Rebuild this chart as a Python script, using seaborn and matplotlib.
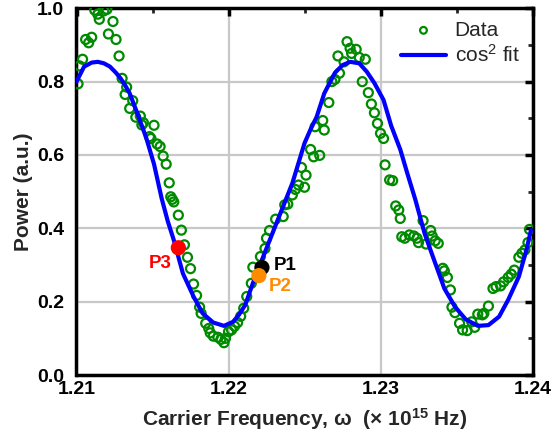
import matplotlib
matplotlib.use("Agg")
import matplotlib.pyplot as plt
import numpy as np
import pandas as pd
import seaborn as sns
from matplotlib.ticker import MultipleLocator, FormatStrFormatter

# ---------------- data ----------------
data_x = [1.2101, 1.2102, 1.2104, 1.2106, 1.2108, 1.2110, 1.2112, 1.2114, 1.2115, 1.2118,
          1.2120, 1.2121, 1.2124, 1.2126, 1.2128, 1.2130, 1.2132, 1.2133, 1.2135, 1.2137,
          1.2139, 1.2142, 1.2143, 1.2144, 1.2148, 1.2149, 1.2151, 1.2153, 1.2155, 1.2157,
          1.2159, 1.2161, 1.2162, 1.2163, 1.2164, 1.2167, 1.2169, 1.2171, 1.2173, 1.2175,
          1.2177, 1.2179, 1.2181, 1.2182, 1.2185, 1.2187, 1.2188, 1.2190, 1.2193, 1.2195,
          1.2197, 1.2198, 1.2200, 1.2202, 1.2204, 1.2206, 1.2208, 1.2210, 1.2212, 1.2215,
          1.2216, 1.2221, 1.2224, 1.2225, 1.2227, 1.2231, 1.2236, 1.2237, 1.2239, 1.2242,
          1.2244, 1.2246, 1.2248, 1.2250, 1.2251, 1.2254, 1.2256, 1.2257, 1.2260, 1.2262,
          1.2263, 1.2266, 1.2268, 1.2270, 1.2272, 1.2273, 1.2276, 1.2278, 1.2280, 1.2281,
          1.2284, 1.2286, 1.2288, 1.2290, 1.2292, 1.2294, 1.2296, 1.2298, 1.2300, 1.2302,
          1.2303, 1.2306, 1.2308, 1.2310, 1.2312, 1.2313, 1.2314, 1.2316, 1.2319, 1.2322,
          1.2324, 1.2325, 1.2328, 1.2330, 1.2333, 1.2334, 1.2336, 1.2338, 1.2341, 1.2342,
          1.2344, 1.2346, 1.2347, 1.2349, 1.2352, 1.2354, 1.2357, 1.2360, 1.2362, 1.2364,
          1.2367, 1.2368, 1.2371, 1.2374, 1.2376, 1.2379, 1.2381, 1.2384, 1.2386, 1.2388,
          1.2391, 1.2393, 1.2395, 1.2397, 1.2398]
data_y = [0.794, 0.843, 0.861, 0.915, 0.906, 0.921, 0.995, 0.984, 0.970, 0.993,
          0.997, 0.930, 0.964, 0.915, 0.870, 0.809, 0.765, 0.785, 0.727, 0.748,
          0.703, 0.706, 0.682, 0.688, 0.650, 0.645, 0.681, 0.630, 0.623, 0.597,
          0.575, 0.524, 0.486, 0.479, 0.472, 0.436, 0.395, 0.355, 0.321, 0.290,
          0.248, 0.217, 0.185, 0.168, 0.141, 0.127, 0.115, 0.106, 0.103, 0.097,
          0.088, 0.100, 0.118, 0.123, 0.133, 0.143, 0.160, 0.182, 0.214, 0.250,
          0.294, 0.323, 0.345, 0.373, 0.394, 0.425, 0.432, 0.464, 0.466, 0.491,
          0.506, 0.518, 0.566, 0.512, 0.545, 0.615, 0.595, 0.677, 0.599, 0.694,
          0.668, 0.743, 0.800, 0.806, 0.870, 0.823, 0.854, 0.909, 0.891, 0.877,
          0.888, 0.866, 0.800, 0.861, 0.770, 0.739, 0.715, 0.686, 0.659, 0.645,
          0.573, 0.532, 0.530, 0.461, 0.450, 0.427, 0.377, 0.373, 0.382, 0.379,
          0.373, 0.361, 0.421, 0.357, 0.394, 0.379, 0.366, 0.359, 0.291, 0.284,
          0.266, 0.232, 0.185, 0.170, 0.141, 0.123, 0.121, 0.145, 0.130, 0.166,
          0.164, 0.168, 0.188, 0.236, 0.241, 0.243, 0.254, 0.266, 0.275, 0.286,
          0.321, 0.332, 0.341, 0.361, 0.397]

fit_x = [1.2100, 1.2105, 1.2110, 1.2114, 1.2118, 1.2122, 1.2126, 1.2129, 1.2132, 1.2135,
         1.2140, 1.2146, 1.2151, 1.2156, 1.2160, 1.2164, 1.2170, 1.2177, 1.2183, 1.2190,
         1.2197, 1.2203, 1.2207, 1.2211, 1.2216, 1.2222, 1.2228, 1.2235, 1.2242, 1.2247,
         1.2250, 1.2254, 1.2258, 1.2263, 1.2270, 1.2275, 1.2280, 1.2286, 1.2291, 1.2296,
         1.2302, 1.2307, 1.2313, 1.2318, 1.2323, 1.2329, 1.2336, 1.2342, 1.2349, 1.2356,
         1.2364, 1.2371, 1.2378, 1.2384, 1.2391, 1.2396, 1.2399]
fit_y = [0.800, 0.841, 0.852, 0.854, 0.850, 0.841, 0.824, 0.809, 0.790, 0.768,
         0.714, 0.645, 0.575, 0.482, 0.420, 0.368, 0.277, 0.214, 0.168, 0.143,
         0.134, 0.145, 0.165, 0.191, 0.250, 0.314, 0.377, 0.450, 0.523, 0.591,
         0.632, 0.670, 0.704, 0.768, 0.824, 0.845, 0.854, 0.850, 0.827, 0.796,
         0.750, 0.680, 0.615, 0.545, 0.477, 0.386, 0.305, 0.236, 0.186, 0.152,
         0.134, 0.136, 0.159, 0.205, 0.268, 0.341, 0.395]

mark_labels = ["P1", "P2", "P3"]
mark_x = [1.2222, 1.2220, 1.2167]
mark_y = [0.293, 0.271, 0.347]
mark_colors = ["black", "#ff8c00", "#ff0000"]
label_x = [1.22300, 1.22262, 1.2155]
label_y = [0.298, 0.240, 0.305]

x_ticks = [1.21, 1.22, 1.23, 1.24]
y_ticks = [0.0, 0.2, 0.4, 0.6, 0.8, 1.0]

df_data = pd.DataFrame({"freq": data_x, "power": data_y})
df_fit = pd.DataFrame({"freq": fit_x, "power": fit_y})

# ---------------- style ----------------
sns.set_theme(style="white")
plt.rcParams["font.family"] = ["Liberation Sans", "DejaVu Sans"]
plt.rcParams["mathtext.fontset"] = "custom"
plt.rcParams["mathtext.rm"] = "Liberation Sans"
plt.rcParams["mathtext.it"] = "Liberation Sans:italic"
plt.rcParams["mathtext.bf"] = "Liberation Sans:bold"

fig = plt.figure(figsize=(5.6, 4.43), dpi=100)
ax = fig.add_axes([76.5 / 560, 1 - 375 / 443, (532.5 - 76.5) / 560, (375 - 8.3) / 443])

ax.grid(True, which="major", color="#c8c8c8", linewidth=1.6)
ax.set_axisbelow(True)

sns.scatterplot(data=df_data, x="freq", y="power", ax=ax, marker="o", s=42,
                facecolors="none", edgecolor="#008a00", linewidth=1.6,
                label="Data", zorder=3)
sns.lineplot(data=df_fit, x="freq", y="power", ax=ax, color="#0000ff",
             linewidth=3, label=r"cos$^2$ fit", estimator=None, sort=False, zorder=4)

for lab, mx, my, mc, lx, ly in zip(mark_labels, mark_x, mark_y, mark_colors, label_x, label_y):
    sns.scatterplot(x=[mx], y=[my], ax=ax, color=mc, s=120, marker="o",
                    edgecolor="none", zorder=5, legend=False)
    ax.text(lx, ly, lab, color=mc, fontsize=13.5, fontweight="bold",
            ha="left" if lab != "P3" else "center", va="center", zorder=6)

ax.set_xlim(1.21, 1.24)
ax.set_ylim(0.0, 1.0)
ax.set_xticks(x_ticks)
ax.set_yticks(y_ticks)
ax.xaxis.set_minor_locator(MultipleLocator(0.005))
ax.yaxis.set_minor_locator(MultipleLocator(0.1))
ax.xaxis.set_major_formatter(FormatStrFormatter("%.2f"))
ax.yaxis.set_major_formatter(FormatStrFormatter("%.1f"))

ax.tick_params(which="major", direction="in", length=6, width=2.5, top=True, right=True,
               labelsize=14, colors="black")
ax.tick_params(axis="x", which="major", pad=4)
ax.tick_params(axis="y", which="major", pad=9)
ax.tick_params(which="minor", direction="in", length=3.5, width=2, top=True, right=True)
for t in ax.get_xticklabels() + ax.get_yticklabels():
    t.set_fontweight("bold")

for sp in ax.spines.values():
    sp.set_visible(True)
    sp.set_color("black")
    sp.set_linewidth(2.5)

ax.set_xlabel(r"Carrier Frequency, ω  (× 10$^{\mathbf{15}}$ Hz)", fontsize=15,
              fontweight="bold", labelpad=6)
ax.set_ylabel("Power (a.u.)", fontsize=15, fontweight="bold", labelpad=3)

leg = ax.legend(loc="upper right", frameon=False, fontsize=15, handlelength=2.2,
                handletextpad=0.4, borderaxespad=0.2, labelspacing=0.2, markerscale=0.75)
leg.set_zorder(10)

fig.savefig("out.png", dpi=100)
